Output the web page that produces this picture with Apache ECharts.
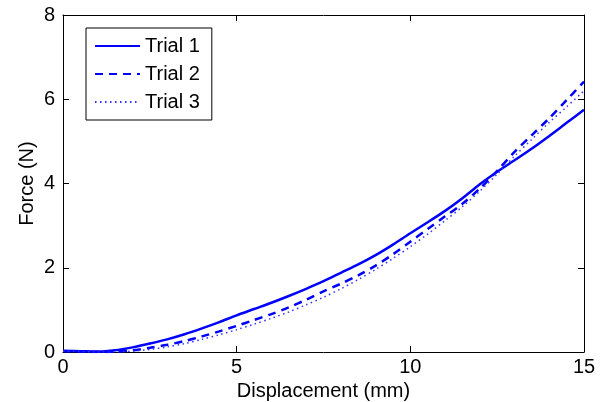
<!DOCTYPE html>
<html>
<head>
<meta charset="utf-8">
<script src="https://cdn.jsdelivr.net/npm/echarts@6/dist/echarts.min.js"></script>
<style>
  html, body { margin: 0; padding: 0; background: #fff; }
  #chart { width: 602px; height: 402px; }
</style>
</head>
<body>
<div id="chart"></div>
<script>
// displacement (mm)
const disp = [0, 0.5, 1, 1.5, 2, 2.5, 3, 3.5, 4, 4.5, 5, 5.5, 6, 6.5, 7, 7.5,
  8, 8.5, 9, 9.5, 10, 10.5, 11, 11.5, 12, 12.5, 13, 13.5, 14, 14.5, 15];
// force (N)
const trial1 = [0.03, 0.02, 0.01, 0.04, 0.11, 0.2, 0.3, 0.42, 0.56, 0.71, 0.87, 1.02, 1.17, 1.33, 1.5, 1.68,
  1.88, 2.08, 2.3, 2.55, 2.82, 3.08, 3.35, 3.65, 3.98, 4.28, 4.55, 4.83, 5.13, 5.44, 5.75];
const trial2 = [0.02, 0.01, 0.0, 0.01, 0.04, 0.1, 0.17, 0.26, 0.37, 0.49, 0.62, 0.76, 0.9, 1.06, 1.24, 1.44,
  1.62, 1.82, 2.05, 2.32, 2.62, 2.92, 3.22, 3.52, 3.88, 4.3, 4.75, 5.15, 5.55, 5.98, 6.42];
const trial3 = [0.02, 0.01, 0.0, 0.0, 0.02, 0.06, 0.12, 0.2, 0.3, 0.41, 0.53, 0.66, 0.8, 0.95, 1.12, 1.3,
  1.5, 1.72, 1.96, 2.22, 2.5, 2.8, 3.12, 3.45, 3.82, 4.22, 4.65, 5.05, 5.45, 5.82, 6.2];

const pairs = ys => disp.map((x, i) => [x, ys[i]]);

let myChart = echarts.init(document.getElementById("chart"));
const font = "Liberation Sans, Arial, sans-serif";
const tickStyle = { show: true, inside: true, length: 6, lineStyle: { color: "#000" } };
const lineAxis = { show: true, onZero: false, lineStyle: { color: "#000" } };

myChart.setOption({
  animation: false,
  backgroundColor: "#fff",
  grid: { left: 63, right: 18, top: 15, bottom: 50, outerBoundsMode: "none" },
  legend: {
    left: 86, top: 28,
    orient: "vertical",
    itemWidth: 45, itemHeight: 14, itemGap: 8,
    padding: [8, 12, 8, 8],
    borderColor: "#000", borderWidth: 1,
    backgroundColor: "#fff",
    itemStyle: { opacity: 0 },
    textStyle: { fontSize: 20, color: "#000", fontFamily: font },
    data: ["Trial 1", "Trial 2", "Trial 3"]
  },
  xAxis: [{
    type: "value", min: 0, max: 15, interval: 5,
    name: "Displacement (mm)", nameLocation: "middle", nameGap: 25,
    nameTextStyle: { fontSize: 20, color: "#000", fontFamily: font },
    axisLine: lineAxis,
    axisTick: tickStyle,
    axisLabel: { fontSize: 20, color: "#000", fontFamily: font, margin: 5 },
    splitLine: { show: false }
  }, {
    type: "value", min: 0, max: 15, interval: 5, position: "top",
    axisLine: lineAxis,
    axisTick: tickStyle, axisLabel: { show: false }, splitLine: { show: false }
  }],
  yAxis: [{
    type: "value", min: 0, max: 8, interval: 2,
    name: "Force (N)", nameLocation: "middle", nameGap: 26, nameMoveOverlap: false,
    nameTextStyle: { fontSize: 20, color: "#000", fontFamily: font },
    axisLine: lineAxis,
    axisTick: tickStyle,
    axisLabel: { fontSize: 20, color: "#000", fontFamily: font, margin: 8 },
    splitLine: { show: false }
  }, {
    type: "value", min: 0, max: 8, interval: 2, position: "right",
    axisLine: lineAxis,
    axisTick: tickStyle, axisLabel: { show: false }, splitLine: { show: false }
  }],
  series: [
    {
      name: "Trial 1", type: "line", data: pairs(trial1), symbol: "none", smooth: 0.3,
      lineStyle: { color: "#0000ff", width: 2.5, type: "solid" }, itemStyle: { color: "#0000ff" }
    },
    {
      name: "Trial 2", type: "line", data: pairs(trial2), symbol: "none", smooth: 0.3,
      lineStyle: { color: "#0000ff", width: 2.5, type: [8, 6] }, itemStyle: { color: "#0000ff" }
    },
    {
      name: "Trial 3", type: "line", data: pairs(trial3), symbol: "none", smooth: 0.3,
      lineStyle: { color: "#3333ff", width: 1.5, type: [1.5, 3.5] }, itemStyle: { color: "#3333ff" }
    }
  ]
});
</script>
</body>
</html>
